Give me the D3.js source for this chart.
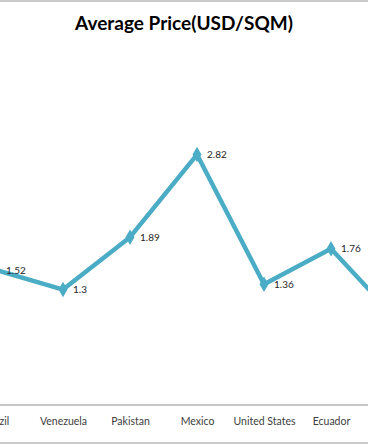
<!DOCTYPE html>
<html>
<head>
<meta charset="utf-8">
<script src="https://cdn.jsdelivr.net/npm/d3@7"></script>
<style>
  body { margin: 0; background: #fff; }
  svg { display: block; font-family: Lato, "Open Sans", sans-serif; }
</style>
</head>
<body>
<svg width="368" height="445"></svg>
<script>
const countries = ['Brazil', 'Venezuela', 'Pakistan', 'Mexico', 'United States', 'Ecuador', 'Colombia'];
const prices = [1.52, 1.3, 1.89, 2.82, 1.36, 1.76, 0.95];

const svg = d3.select('svg');
const w = +svg.attr('width');
const h = +svg.attr('height');

const lineColor = '#4bacc6';

//scales: the plot is wider than the window, so it is clipped on both sides

const x = d3.scalePoint()
  .domain(countries)
  .range([-4, 398]);

const y = d3.scaleLinear()
  .domain([0, 3])
  .range([405, 138.6]);

// frame lines

svg.append('line')
  .attr('x1', 0).attr('x2', w)
  .attr('y1', 1).attr('y2', 1)
  .attr('stroke', '#b8b8b8')
  .attr('stroke-width', 1.5);

svg.append('line')
  .attr('x1', 0).attr('x2', w)
  .attr('y1', h - 2).attr('y2', h - 2)
  .attr('stroke', '#b8b8b8')
  .attr('stroke-width', 1.5);

// x axis

const xAxis = svg.append('g')
  .attr('transform', `translate(0,${y(0)})`)
  .call(d3.axisBottom(x).tickSize(0).tickPadding(13));

xAxis.select('.domain')
  .attr('stroke', '#b3b3b3')
  .attr('stroke-width', 1.3)
  .attr('d', `M0,0H${w}`);

xAxis.selectAll('text')
  .attr('font-family', 'Lato, sans-serif')
  .attr('font-size', '10.5px')
  .attr('fill', '#404040');

// the series

const data = countries.map((c, i) => ({ country: c, price: prices[i] }));

svg.append('path')
  .datum(data)
  .attr('fill', 'none')
  .attr('stroke', lineColor)
  .attr('stroke-width', 4.5)
  .attr('stroke-linejoin', 'round')
  .attr('d', d3.line()
    .x(d => x(d.country))
    .y(d => y(d.price)));

svg.selectAll('.marker')
  .data(data)
  .enter()
  .append('path')
  .attr('class', 'marker')
  .attr('transform', d => `translate(${x(d.country)},${y(d.price)})`)
  .attr('d', d3.symbol().type(d3.symbolDiamond).size(70))
  .attr('fill', lineColor);

//data labels

svg.selectAll('.label')
  .data(data)
  .enter()
  .append('text')
  .attr('class', 'label')
  .attr('x', d => x(d.country) + 10)
  .attr('y', d => y(d.price))
  .attr('dy', '0.35em')
  .attr('font-size', '10px')
  .attr('fill', '#262626')
  .text(d => d.price);

// Chart Heading

svg.append('text')
  .attr('x', w / 2)
  .attr('y', 30)
  .attr('text-anchor', 'middle')
  .attr('font-size', '19px')
  .attr('font-weight', 'bold')
  .attr('fill', '#000')
  .text('Average Price(USD/SQM)');
</script>
</body>
</html>
